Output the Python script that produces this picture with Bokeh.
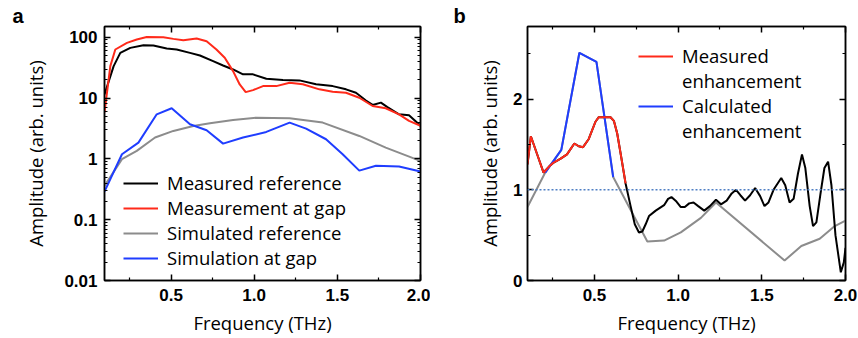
import numpy as np
from bokeh.plotting import figure
from bokeh.models import (LinearAxis, LogAxis, FixedTicker, CustomJSTickFormatter,
                          PrintfTickFormatter, Legend, LegendItem, Span)
from bokeh.layouts import row
from bokeh.embed import file_html
from bokeh.resources import INLINE

# ---------------- Panel a data ----------------
ref_meas_f = [0.10, 0.155, 0.195, 0.255, 0.334, 0.394, 0.474, 0.534, 0.614, 0.674, 0.753, 0.813,
              0.873, 0.933, 0.993, 1.073, 1.173, 1.272, 1.372, 1.472, 1.552, 1.612, 1.672, 1.712,
              1.762, 1.801, 1.871, 1.931, 2.0]
ref_meas_v = [11.5, 33.5, 55.3, 66.8, 74.0, 73.0, 65.0, 62.8, 55.3, 50.0, 40.4, 34.3,
              29.5, 24.5, 24.5, 20.7, 19.8, 19.5, 16.8, 15.7, 13.9, 12.2, 9.1, 7.7,
              8.4, 7.1, 5.4, 5.2, 3.5]

gap_meas_f = [0.10, 0.135, 0.165, 0.235, 0.294, 0.354, 0.454, 0.514, 0.574, 0.654, 0.714, 0.773,
              0.823, 0.873, 0.913, 0.949, 0.993, 1.053, 1.133, 1.213, 1.292, 1.392, 1.472, 1.552,
              1.632, 1.712, 1.791, 1.871, 1.931, 2.0]
gap_meas_v = [5.8, 33.5, 62.8, 80.7, 91.6, 101.0, 100.0, 93.9, 89.3, 95.1, 86.0, 62.8,
              45.9, 27.7, 16.7, 12.5, 13.5, 15.7, 15.7, 17.8, 16.8, 13.9, 12.7, 12.2,
              10.1, 7.4, 6.8, 5.4, 4.2, 3.5]

ref_sim_f = [0.10, 0.205, 0.294, 0.404, 0.514, 0.634, 0.734, 0.873, 1.013, 1.213, 1.412, 1.632,
             1.791, 1.971, 2.0]
ref_sim_v = [0.36, 0.99, 1.35, 2.24, 2.88, 3.47, 3.85, 4.36, 4.76, 4.65, 3.95, 2.38,
             1.53, 0.99, 0.92]

gap_sim_f = [0.10, 0.205, 0.304, 0.414, 0.504, 0.614, 0.714, 0.813, 0.933, 1.073, 1.213, 1.312,
             1.432, 1.532, 1.632, 1.732, 1.871, 2.0]
gap_sim_v = [0.29, 1.19, 1.85, 5.4, 6.8, 3.7, 2.95, 1.78, 2.24, 2.77, 3.95, 3.14,
             2.1, 1.19, 0.64, 0.77, 0.75, 0.62]

labels_a = ["Measured reference", "Measurement at gap", "Simulated reference", "Simulation at gap"]

# ---------------- Panel b data ----------------
meas_enh_f = [0.10, 0.12, 0.156, 0.196, 0.226, 0.256, 0.296, 0.336, 0.38, 0.406, 0.432, 0.466,
              0.506, 0.526, 0.596, 0.616, 0.636, 0.66, 0.686,
              0.716, 0.741, 0.766, 0.786, 0.806, 0.826, 0.866, 0.916, 0.94, 0.96, 0.99, 1.016,
              1.04, 1.066, 1.092, 1.12, 1.156, 1.19, 1.226, 1.256, 1.29, 1.32, 1.346, 1.372,
              1.4, 1.43, 1.46, 1.49, 1.516, 1.54, 1.57, 1.616, 1.64, 1.666, 1.69, 1.716, 1.74,
              1.76, 1.786, 1.806, 1.826, 1.85, 1.874, 1.896, 1.916, 1.94, 1.972, 1.99, 2.0]
meas_enh_v = [1.28, 1.59, 1.40, 1.19, 1.25, 1.30, 1.34, 1.39, 1.51, 1.48, 1.47, 1.56,
              1.75, 1.80, 1.80, 1.76, 1.62, 1.36, 1.07,
              0.82, 0.62, 0.53, 0.54, 0.62, 0.71, 0.77, 0.83, 0.90, 0.92, 0.87, 0.81,
              0.81, 0.85, 0.86, 0.82, 0.77, 0.82, 0.89, 0.84, 0.88, 0.96, 1.00, 0.94,
              0.88, 0.94, 1.02, 0.93, 0.82, 0.86, 1.00, 1.13, 1.05, 0.86, 0.90, 1.18, 1.39,
              1.24, 0.82, 0.60, 0.64, 0.95, 1.24, 1.31, 1.05, 0.50, 0.09, 0.20, 0.36]
meas_highlight_max = 0.686   # red part of the measured enhancement

calc_enh_f = [0.10, 0.206, 0.302, 0.41, 0.512, 0.612, 0.816, 0.916, 1.016, 1.136, 1.226, 1.636,
              1.736, 1.846, 1.936, 2.0]
calc_enh_v = [0.81, 1.19, 1.44, 2.51, 2.41, 1.14, 0.43, 0.44, 0.53, 0.69, 0.86, 0.22,
              0.38, 0.46, 0.60, 0.66]
calc_highlight = (0.206, 0.612)  # blue part of the calculated enhancement

baseline = 1.0
labels_b = ["Measured", "enhancement", "Calculated", "enhancement"]
panel_labels = ["a", "b"]

x_ticks = [0.5, 1.0, 1.5, 2.0]
x_minor = [0.25, 0.75, 1.25, 1.75]
ya_ticks = [0.01, 0.1, 1, 10, 100]
ya_minor = [m * d for d in [0.01, 0.1, 1, 10, 100] for m in range(2, 10)]
yb_ticks = [0, 1, 2]
yb_minor = [0.5, 1.5, 2.5]

BLACK = "#000000"
RED = "#ff2a1a"
GRAY = "#8c8c8c"
BLUE = "#1f3dff"
TICK_FONT = "Liberation Sans"
TEXT_FONT = "Open Sans"

blank_fmt = CustomJSTickFormatter(code="return '';")


def style_axis(ax, show_labels=True):
    ax.major_tick_in = 6
    ax.major_tick_out = 0
    ax.minor_tick_in = 3
    ax.minor_tick_out = 0
    ax.axis_line_width = 1.5
    ax.major_tick_line_width = 1.5
    ax.minor_tick_line_width = 1.2
    ax.major_label_text_font = TICK_FONT
    ax.major_label_text_font_style = "bold"
    ax.major_label_text_color = "black"
    if show_labels:
        ax.major_label_text_font_size = "17px"
        ax.major_label_standoff = 8
    else:
        ax.formatter = blank_fmt
        ax.major_label_text_font_size = "2px"
        ax.major_label_standoff = 0
    ax.axis_label_text_font = TEXT_FONT
    ax.axis_label_text_font_size = "18.5px"
    ax.axis_label_text_font_style = "normal"
    ax.axis_label_text_color = "black"


def base_fig(label, offset, **kw):
    p = figure(output_backend="svg", toolbar_location=None, title=label, **kw)
    p.xgrid.visible = False
    p.ygrid.visible = False
    p.outline_line_color = "black"
    p.outline_line_width = 1.5
    p.background_fill_color = "white"
    p.border_fill_color = "white"
    p.title.align = "left"
    p.title.offset = offset
    p.title.standoff = 0
    p.title.text_font = TICK_FONT
    p.title.text_font_style = "bold"
    p.title.text_font_size = "20px"
    p.title.text_color = "black"
    return p


# ---------------- Panel a ----------------
pa = base_fig(panel_labels[0], -92, width=430, height=338, y_axis_type="log",
              x_range=(0.1, 2.0), y_range=(0.01, 150),
              min_border_left=104, min_border_right=10, min_border_top=25, min_border_bottom=58)

xt = FixedTicker(ticks=x_ticks, minor_ticks=x_minor)
yta = FixedTicker(ticks=ya_ticks, minor_ticks=ya_minor)
fmt_log = CustomJSTickFormatter(code="return Number(tick.toPrecision(3)).toString();")

pa.xaxis.ticker = xt
pa.xaxis.formatter = PrintfTickFormatter(format="%.1f")
pa.yaxis.ticker = yta
pa.yaxis.formatter = fmt_log
pa.xaxis.axis_label = "Frequency (THz)"
pa.yaxis.axis_label = "Amplitude (arb. units)"
style_axis(pa.xaxis[0])
style_axis(pa.yaxis[0])
pa.xaxis.axis_label_standoff = 6
pa.yaxis.axis_label_standoff = 13
pa.yaxis.major_label_standoff = 7

ax_top = LinearAxis(ticker=xt)
style_axis(ax_top, show_labels=False)
pa.add_layout(ax_top, "above")
ax_right = LogAxis(ticker=yta)
style_axis(ax_right, show_labels=False)
pa.add_layout(ax_right, "right")

r_gs = pa.line(ref_sim_f, ref_sim_v, line_color=GRAY, line_width=2)
r_bs = pa.line(gap_sim_f, gap_sim_v, line_color=BLUE, line_width=2)
r_km = pa.line(ref_meas_f, ref_meas_v, line_color=BLACK, line_width=2)
r_rm = pa.line(gap_meas_f, gap_meas_v, line_color=RED, line_width=2)

leg_a = Legend(items=[LegendItem(label=labels_a[0], renderers=[r_km]),
                      LegendItem(label=labels_a[1], renderers=[r_rm]),
                      LegendItem(label=labels_a[2], renderers=[r_gs]),
                      LegendItem(label=labels_a[3], renderers=[r_bs])],
               location=(19, 10))
pa.add_layout(leg_a)

# ---------------- Panel b ----------------
pb = base_fig(panel_labels[1], -74, width=428, height=338, x_range=(0.1, 2.0), y_range=(0, 2.8),
              min_border_left=97, min_border_right=13, min_border_top=26, min_border_bottom=56)
ytb = FixedTicker(ticks=yb_ticks, minor_ticks=yb_minor)
pb.xaxis.ticker = xt
pb.xaxis.formatter = PrintfTickFormatter(format="%.1f")
pb.yaxis.ticker = ytb
pb.xaxis.axis_label = "Frequency (THz)"
pb.yaxis.axis_label = "Amplitude (arb. units)"
style_axis(pb.xaxis[0])
style_axis(pb.yaxis[0])
pb.xaxis.axis_label_standoff = 6
pb.yaxis.axis_label_standoff = 8
pb.yaxis.major_label_standoff = 5

bx_top = LinearAxis(ticker=xt)
style_axis(bx_top, show_labels=False)
pb.add_layout(bx_top, "above")
by_right = LinearAxis(ticker=ytb)
style_axis(by_right, show_labels=False)
pb.add_layout(by_right, "right")

pb.add_layout(Span(location=baseline, dimension="width", line_color="#4f7fc4",
                   line_dash="2 2", line_width=1.5))

mf = np.array(meas_enh_f)
mv = np.array(meas_enh_v)
cf = np.array(calc_enh_f)
cv = np.array(calc_enh_v)
red_mask = mf <= meas_highlight_max
blue_mask = (cf >= calc_highlight[0]) & (cf <= calc_highlight[1])

pb.line(cf, cv, line_color=GRAY, line_width=2)
pb.line(mf, mv, line_color=BLACK, line_width=2)
r_blue = pb.line(cf[blue_mask], cv[blue_mask], line_color=BLUE, line_width=2)
r_red = pb.line(mf[red_mask], mv[red_mask], line_color=RED, line_width=2)
r_none = pb.line(mf[red_mask], mv[red_mask], line_alpha=0)

leg_b = Legend(items=[LegendItem(label=labels_b[0], renderers=[r_red]),
                      LegendItem(label=labels_b[1], renderers=[r_none]),
                      LegendItem(label=labels_b[2], renderers=[r_blue]),
                      LegendItem(label=labels_b[3], renderers=[r_none])],
               location=(111, 137))
pb.add_layout(leg_b)

for leg in (leg_a, leg_b):
    leg.border_line_color = None
    leg.background_fill_alpha = 0
    leg.padding = 0
    leg.margin = 0
    leg.spacing = 0
    leg.glyph_width = 35
    leg.glyph_height = 20
    leg.label_height = 20
    leg.label_standoff = 9
    leg.label_text_font = TEXT_FONT
    leg.label_text_font_size = "18.5px"
    leg.label_text_color = "black"

layout = row(pa, pb)
open("out.html", "w").write(file_html(layout, INLINE))
